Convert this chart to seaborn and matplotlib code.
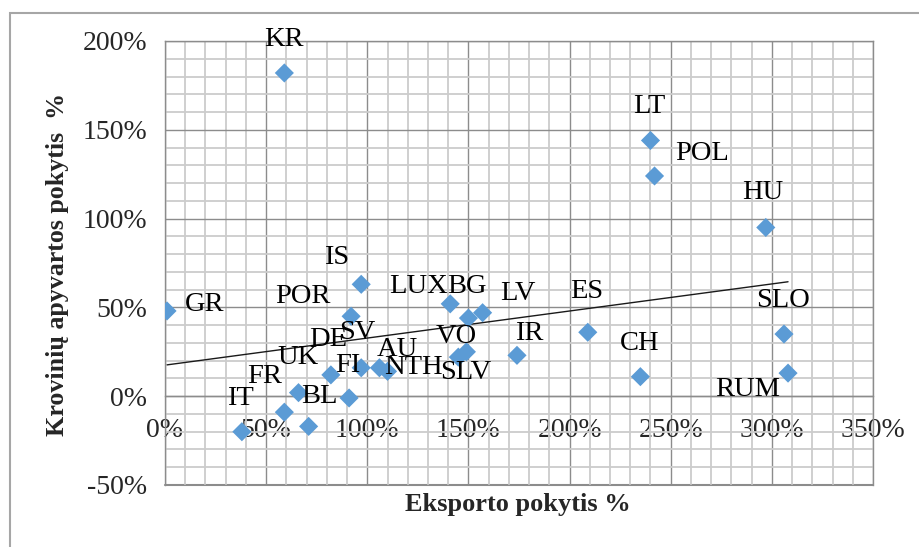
import numpy as np
import pandas as pd
import matplotlib
matplotlib.use("Agg")
import matplotlib.pyplot as plt
from matplotlib.ticker import MultipleLocator, FuncFormatter
from matplotlib.patches import Rectangle
import seaborn as sns

# ---- data (percent) ----
countries = ["GR", "KR", "IS", "POR", "LUX", "BG", "LV", "VO", "SLV", "IR", "ES", "CH",
             "SLO", "RUM", "LT", "POL", "HU", "DE", "SV", "FI", "AU", "NTH", "UK", "FR",
             "IT", "BL"]
export_change = [1, 59, 97, 92, 141, 150, 157, 149, 145, 174, 209, 235,
                 306, 308, 240, 242, 297, 82, 97, 91, 106, 110, 66, 59,
                 38, 71]
cargo_change = [48, 182, 63, 45, 52, 44, 47, 25, 22, 23, 36, 11,
                35, 13, 144, 124, 95, 12, 16, -1, 16, 14, 2, -9,
                -20, -17]
x_ticks = [0, 50, 100, 150, 200, 250, 300, 350]
y_ticks = [-50, 0, 50, 100, 150, 200]
x_title = "Eksporto pokytis %"
y_title = "Krovinių apyvartos pokytis  %"

# label offsets in pixels (dx, dy) relative to each point
label_offsets = [(38, 6), (0, 33), (-25, 27), (-48, 20), (-32, 17), (-2, 32), (35, 19),
                 (-10, 15), (7, -15), (12, 22), (-1, 41), (-1, 33), (-1, 34), (-40, -16),
                 (-1, 34), (48, 22), (-3, 35), (-3, 35), (-4, 35), (-1, 32), (18, 18),
                 (26, 4), (-1, 35), (-20, 36), (-1, 33), (11, 30)]

df = pd.DataFrame({"country": countries, "x": export_change, "y": cargo_change})

sns.set_style("white")
plt.rcParams["font.family"] = ["Liberation Serif", "DejaVu Serif"]

fig = plt.figure(figsize=(9.2, 5.47), dpi=100)
ax = fig.add_axes([165 / 920, 1 - 485 / 547, (873 - 165) / 920, (485 - 41) / 547])

major_c = "#8c8c8c"
minor_c = "#cccccc"

ax.set_xlim(0, 350)
ax.set_ylim(-50, 200)
ax.xaxis.set_major_locator(MultipleLocator(50))
ax.xaxis.set_minor_locator(MultipleLocator(10))
ax.yaxis.set_major_locator(MultipleLocator(50))
ax.yaxis.set_minor_locator(MultipleLocator(10))
ax.set_axisbelow(True)
ax.grid(which="minor", color=minor_c, lw=1.3)
ax.grid(which="major", color=major_c, lw=1.0)

sns.regplot(data=df, x="x", y="y", scatter=False, ci=None, truncate=True,
            line_kws=dict(color="#1a1a1a", lw=1.0), ax=ax)
sns.scatterplot(data=df, x="x", y="y", marker="D", s=95, color="#5B9BD5",
                edgecolor="none", linewidth=0, ax=ax, zorder=3, legend=False)

for (cx, cy, name), (dx, dy) in zip(zip(df.x, df.y, df.country), label_offsets):
    ax.annotate(name, (cx, cy), xytext=(dx, dy), textcoords="offset pixels",
                ha="center", va="center", fontsize=20.5, color="black", zorder=4)

fmt = FuncFormatter(lambda v, p: f"{int(v)}%")
ax.set_xticks(x_ticks)
ax.set_yticks(y_ticks)
ax.xaxis.set_major_formatter(fmt)
ax.yaxis.set_major_formatter(fmt)
ax.tick_params(axis="both", which="major", labelsize=20, length=5, color=major_c,
               direction="out")
ax.tick_params(axis="x", pad=11)
ax.tick_params(axis="y", pad=8)
ax.tick_params(which="minor", length=0)

ax.spines["bottom"].set_position(("data", 0))
for s in ["bottom", "left", "top", "right"]:
    ax.spines[s].set_color(major_c)
    ax.spines[s].set_linewidth(1.0)
ax.axhline(-50, color=major_c, lw=1.5, clip_on=False, zorder=0)

ax.set_xlabel("")
ax.set_ylabel("")
fig.text(518 / 920, 1 - 505 / 547, x_title, ha="center", va="center",
         fontsize=19, fontweight="bold")
fig.text(58 / 920, 1 - 264 / 547, y_title, ha="center", va="center",
         fontsize=18.7, fontweight="bold", rotation=90)

fig.patches.append(Rectangle((10 / 920, -0.1), 1.2, 1 - 13 / 547 + 0.1,
                             transform=fig.transFigure, fill=False,
                             edgecolor="#a6a6a6", lw=1.5))

fig.savefig("out.png", dpi=100)
